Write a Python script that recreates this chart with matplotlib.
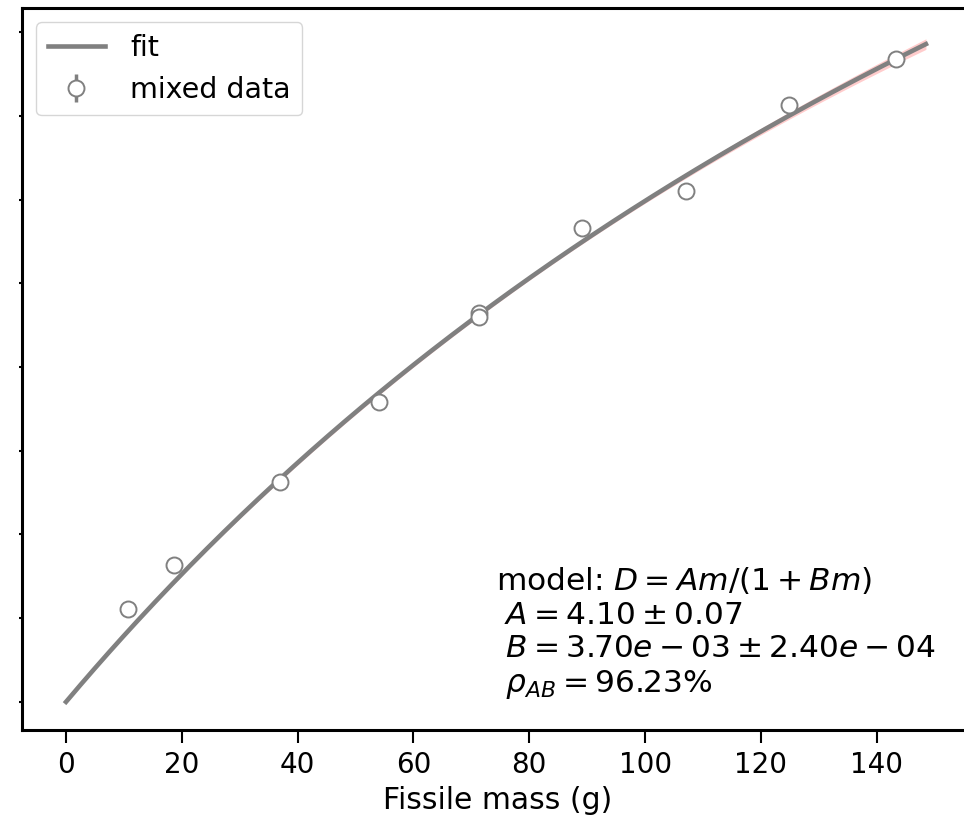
import numpy as np
import matplotlib.pyplot as plt

# measured points (fissile mass in g, detector response)
mass = [10.7, 18.6, 36.9, 54.0, 71.3, 71.3, 89.1, 107.0, 124.9, 143.3]
response = [55.5, 81.6, 131.3, 179.3, 232.1, 229.7, 282.8, 305.3, 356.8, 384.3]
response_err = [2.0, 2.0, 2.0, 2.0, 2.0, 2.0, 2.0, 2.0, 2.0, 2.0]

# fit parameters as printed on the chart
A, A_err = 4.10, 0.07
B, B_err = 3.70e-03, 2.40e-04
rho_AB = 0.9623
m_fit_max = 148.5

fig = plt.figure(figsize=(9.64, 8.21), dpi=100)
# right edge of the axes falls just outside the picture
ax = fig.add_axes([22 / 964, 1 - 730 / 821, 952 / 964, 722 / 821])

# fit curve and its uncertainty band
m = np.linspace(0, m_fit_max, 300)
D = A * m / (1 + B * m)
dA = m / (1 + B * m)
dB = -A * m**2 / (1 + B * m)**2
sig = np.sqrt((dA * A_err)**2 + (dB * B_err)**2 + 2 * rho_AB * dA * dB * A_err * B_err)
ax.fill_between(m, D - sig, D + sig, color='red', alpha=0.2, lw=0)
ax.plot(m, D, color='#808080', lw=3.3, label='fit', zorder=3)

ax.errorbar(mass, response, yerr=response_err, fmt='o', color='#808080',
            mfc='white', mec='#808080', ms=11.5, mew=1.4, elinewidth=2.5,
            label='mixed data', zorder=4)

ax.set_xlim(-7.6, 156.8)
ax.set_ylim(-16.8, 414.5)
ax.set_xticks(np.arange(0, 141, 20))
ax.set_yticks(np.arange(0, 401, 50))
ax.set_yticklabels([])
ax.tick_params(axis='x', labelsize=20, length=9, width=1.5, pad=6)
ax.tick_params(axis='y', length=2, width=1.5)
for s in ax.spines.values():
    s.set_linewidth(2.2)
ax.spines['right'].set_visible(False)
ax.set_xlabel('Fissile mass (g)', fontsize=21.5, labelpad=5)

ax.legend(loc='upper left', fontsize=20.5, handlelength=2.0,
          handletextpad=0.9, borderaxespad=0.5, frameon=True)

txt = ('model: $D = Am/(1 + Bm)$\n'
       ' $A = 4.10 \\pm 0.07$\n'
       ' $B = 3.70e-03 \\pm 2.40e-04$\n'
       ' $\\rho_{AB} = 96.23\\%$')
ax.text(0.498, 0.04, txt, transform=ax.transAxes, fontsize=22.5,
        va='bottom', ha='left', linespacing=1.2)

fig.savefig('out.png', dpi=100)
